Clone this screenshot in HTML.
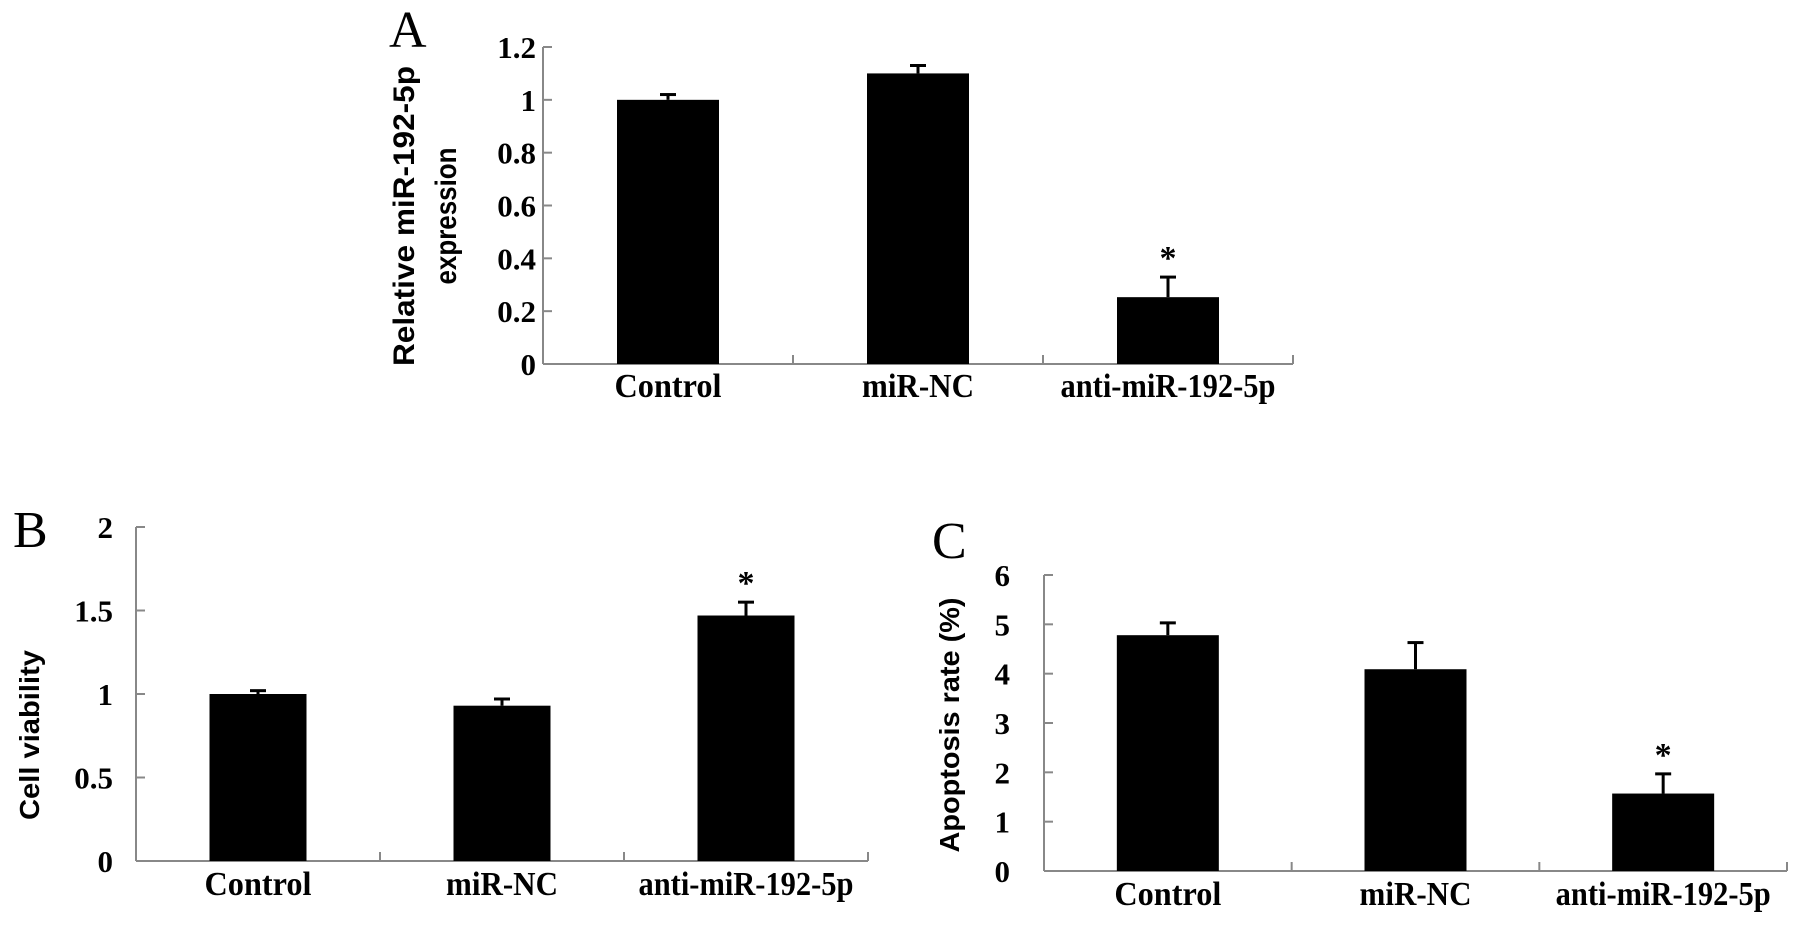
<!DOCTYPE html>
<html><head><meta charset="utf-8"><style>
html,body{margin:0;padding:0;background:#fff;}
svg{display:block;}
text{font-family:"Liberation Serif",serif;font-weight:bold;fill:#000;}
.lbl{font-weight:normal;}
.ttl{font-family:"Liberation Sans",sans-serif;font-weight:bold;}
</style></head>
<body>
<svg id="fig" width="1795" height="927" viewBox="0 0 1795 927" xmlns="http://www.w3.org/2000/svg"></svg>
<script>
const categories = ["Control", "miR-NC", "anti-miR-192-5p"];
const catTextLen = [107, 112, 215];
const valuesA = [1.0, 1.1, 0.253];
const errorsA = [0.02, 0.03, 0.076];
const starsA = [false, false, true];
const ticksA = [0, 0.2, 0.4, 0.6, 0.8, 1, 1.2];
const tickLabelsA = ["0", "0.2", "0.4", "0.6", "0.8", "1", "1.2"];
const valuesB = [1.0, 0.93, 1.47];
const errorsB = [0.02, 0.04, 0.08];
const starsB = [false, false, true];
const ticksB = [0, 0.5, 1, 1.5, 2];
const tickLabelsB = ["0", "0.5", "1", "1.5", "2"];
const valuesC = [4.78, 4.09, 1.57];
const errorsC = [0.25, 0.54, 0.40];
const starsC = [false, false, true];
const ticksC = [0, 1, 2, 3, 4, 5, 6];
const tickLabelsC = ["0", "1", "2", "3", "4", "5", "6"];

const NS = "http://www.w3.org/2000/svg";
const svg = document.getElementById("fig");
function mk(tag, attrs, parent) {
  const e = document.createElementNS(NS, tag);
  for (const k in attrs) e.setAttribute(k, attrs[k]);
  (parent || svg).appendChild(e);
  return e;
}

function panel(cfg) {
  const g = mk("g", {});
  
  
  const yScale = v => cfg.y0 - (v - cfg.ymin) / (cfg.ymax - cfg.ymin) * (cfg.y0 - cfg.yTop);
  const cw = (cfg.x1 - cfg.x0) / categories.length;
  const xCenter = i => cfg.x0 + cw * (i + 0.5);

  const L = mk("text", {x: cfg.letterX, y: cfg.letterY, "font-size": 52, class: "lbl"}, g);
  L.textContent = cfg.letter;
  
  

  const ya = mk("line", {x1: cfg.x0, y1: cfg.yTop, x2: cfg.x0, y2: cfg.y0, stroke: "#888", "stroke-width": 2}, g);
  
  
  const xa = mk("line", {x1: cfg.x0, y1: cfg.y0, x2: cfg.x1, y2: cfg.y0, stroke: "#888", "stroke-width": 2}, g);
  
  

  cfg.ticks.forEach((t, i) => {
    const y = yScale(t);
    const tk = mk("line", {x1: cfg.x0, y1: y, x2: cfg.x0 + 9, y2: y, stroke: "#888", "stroke-width": 2}, g);
    
    
    const tl = mk("text", {x: cfg.tickRight, y: y + 11, "font-size": 31, "text-anchor": "end"}, g);
    tl.textContent = cfg.tickLabels[i];
    
    
  });
  for (let i = 1; i <= categories.length; i++) {
    const x = cfg.x0 + cw * i;
    const tk = mk("line", {x1: x, y1: cfg.y0, x2: x, y2: cfg.y0 - 9, stroke: "#888", "stroke-width": 2}, g);
    
    
  }

  const bw = cfg.barW;
  categories.forEach((c, i) => {
    const cx = xCenter(i);
    const top = yScale(cfg.values[i]);
    const eTop = yScale(cfg.values[i] + cfg.errors[i]);
    const el = mk("line", {x1: cx, y1: top, x2: cx, y2: eTop, stroke: "#000", "stroke-width": 3}, g);
    
    
    const ec = mk("line", {x1: cx - 8, y1: eTop, x2: cx + 8, y2: eTop, stroke: "#000", "stroke-width": 3}, g);
    
    
    const b = mk("rect", {x: cx - bw / 2, y: top, width: bw, height: cfg.y0 - top, fill: "#000"}, g);
    
    
    if (cfg.stars[i]) {
      const s = mk("text", {x: cx, y: eTop - 8, "font-size": 34, "text-anchor": "middle"}, g);
      s.textContent = "*";
      
      
    }
    const cl = mk("text", {x: cx, y: cfg.y0 + cfg.labelOff, "font-size": 34, "text-anchor": "middle", textLength: catTextLen[i], lengthAdjust: "spacingAndGlyphs"}, g);
    cl.textContent = c;
    
    
  });

  cfg.title.forEach((line, k) => {
    const t = mk("text", {x: 0, y: 0, class: "ttl", "font-size": cfg.titleSize, "text-anchor": "middle",
      textLength: cfg.titleLen[k], lengthAdjust: "spacingAndGlyphs",
      transform: "translate(" + cfg.titleX[k] + "," + cfg.titleY + ") rotate(-90)"}, g);
    t.textContent = line;
    
    
  });
}

panel({name: "panel-a", letter: "A", letterX: 389, letterY: 47, x0: 543, x1: 1293, y0: 364, yTop: 47,
  ymin: 0, ymax: 1.2, ticks: ticksA, tickLabels: tickLabelsA, tickRight: 536, barW: 102,
  values: valuesA, errors: errorsA, stars: starsA, labelOff: 33,
  title: ["Relative miR-192-5p", "expression"], titleLen: [300, 137], titleX: [414, 456], titleY: 216, titleSize: 30});
panel({name: "panel-b", letter: "B", letterX: 13, letterY: 547, x0: 136, x1: 868, y0: 861, yTop: 527,
  ymin: 0, ymax: 2, ticks: ticksB, tickLabels: tickLabelsB, tickRight: 113, barW: 97,
  values: valuesB, errors: errorsB, stars: starsB, labelOff: 34,
  title: ["Cell viability"], titleLen: [170], titleX: [39], titleY: 735, titleSize: 28});
panel({name: "panel-c", letter: "C", letterX: 932, letterY: 558, x0: 1044, x1: 1787, y0: 871, yTop: 575,
  ymin: 0, ymax: 6, ticks: ticksC, tickLabels: tickLabelsC, tickRight: 1010, barW: 102,
  values: valuesC, errors: errorsC, stars: starsC, labelOff: 34,
  title: ["Apoptosis rate (%)"], titleLen: [255], titleX: [959], titleY: 725, titleSize: 28});
</script>
</body></html>
